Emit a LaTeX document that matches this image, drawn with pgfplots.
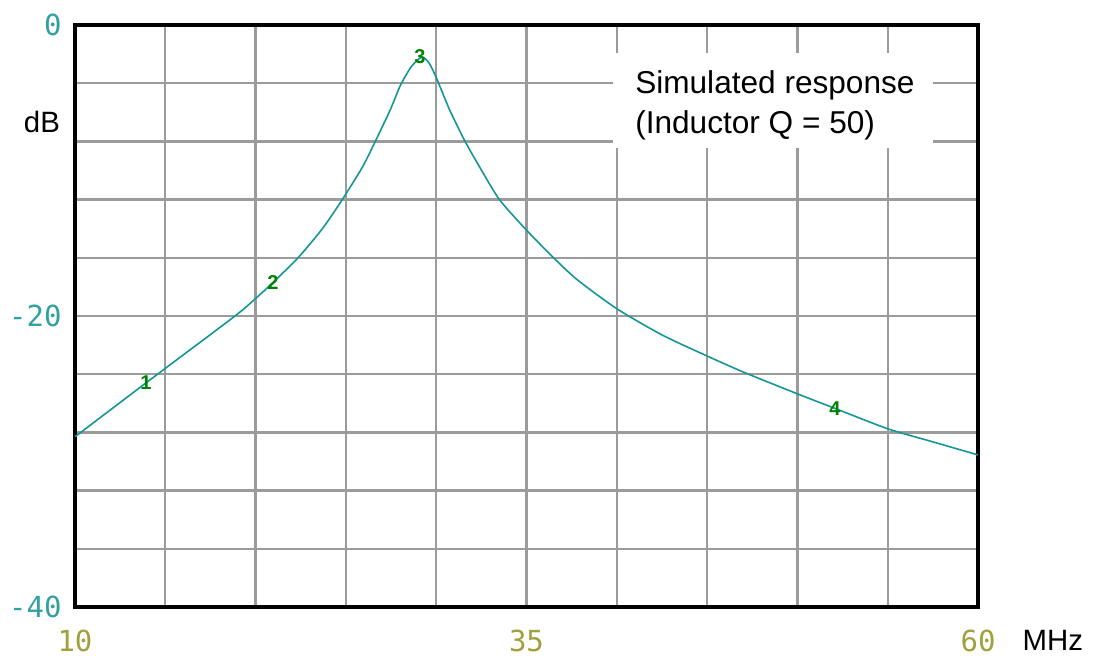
\documentclass[border=0pt]{standalone}
\usepackage{pgfplots}
\pgfplotsset{compat=1.18}
\usepackage{fontspec}
\setmainfont{Liberation Sans}
\newfontfamily\tickfont{DejaVu Sans Mono}

\definecolor{gridgray}{RGB}{155,155,155}
\definecolor{curveteal}{RGB}{20,150,150}
\definecolor{ylabteal}{RGB}{50,160,160}
\definecolor{xlabolive}{RGB}{160,160,60}
\definecolor{markgreen}{RGB}{0,130,0}

\begin{document}
\begin{tikzpicture}
    % 1 px of the reference = 0.5pt
    \useasboundingbox (-37.5pt,-27.5pt) rectangle (512.5pt,303.5pt);
    \begin{axis}[
        at={(0,0)}, anchor=south west,
        scale only axis,
        width=451.5pt, height=291pt,
        xmin=10, xmax=60,
        ymin=-40, ymax=0,
        xtick={10,35,60},
        minor xtick={15,20,25,30,40,45,50,55},
        ytick={-40,-20,0},
        minor ytick={-36,-32,-28,-24,-16,-12,-8,-4},
        grid=both,
        major grid style={gridgray, line width=1.2pt},
        minor grid style={gridgray, line width=1.2pt},
        major tick length=0pt, minor tick length=0pt,
        axis line style={black, line width=2pt},
        /pgf/number format/assume math mode=true,
        ticklabel style={font=\tickfont\fontsize{14.5}{17}\selectfont},
        yticklabel style={text=ylabteal, inner sep=0pt, xshift=-6.5pt},
        xticklabel style={text=xlabolive, inner sep=0pt, yshift=-11.5pt},
        clip=false,
    ]
    % white box behind the note
    \fill[white] (axis cs:39.79,-1.92) rectangle (axis cs:57.5,-8.45);
    \node[anchor=north west, inner sep=0pt, align=left,
          font=\fontsize{15.8}{19.7}\selectfont]
        at (axis cs:41.0,-3.14) {Simulated response\\(Inductor Q = 50)};

    %% response curve
    \addplot[curveteal, line width=0.8pt, smooth, tension=0.4] coordinates {
        (10,-28.3) (13.93,-24.6) (15,-23.6) (18.86,-20.0)
        (20,-18.8) (20.96,-17.7) (22.35,-16.0) (23.7,-14.0) (24.8,-12.0)
        (25.9,-9.8) (26.55,-8.2) (27.45,-5.85) (28,-4.2) (28.6,-2.9)
        (29.2,-2.2) (29.6,-2.6) (30,-3.6) (30.75,-5.85) (31.6,-8.0)
        (32.4,-9.75) (33.5,-12.0) (35,-14.1) (36.5,-16.0) (37.8,-17.5)
        (40,-19.5) (42.5,-21.3) (45,-22.75) (47,-23.85) (50,-25.35)
        (52.08,-26.35) (55,-27.75) (57.5,-28.65) (60,-29.55)
    };

    %% marker numbers
    \addplot[draw=none, mark=none, point meta=explicit symbolic,
        nodes near coords, nodes near coords align=center,
        every node near coord/.append style={text=markgreen, inner sep=0pt,
            font=\bfseries\fontsize{10}{10}\selectfont}]
        coordinates {
            (13.93,-24.6)[1] (20.96,-17.7)[2] (29.1,-2.2)[3] (52.08,-26.4)[4]
        };

    \node[font=\fontsize{14.7}{17}\selectfont] at (axis cs:8.17,-6.67) {dB};
    \node[font=\fontsize{14.7}{17}\selectfont] at (axis cs:64.15,-42.27) {MHz};
    \end{axis}
\end{tikzpicture}
\end{document}
